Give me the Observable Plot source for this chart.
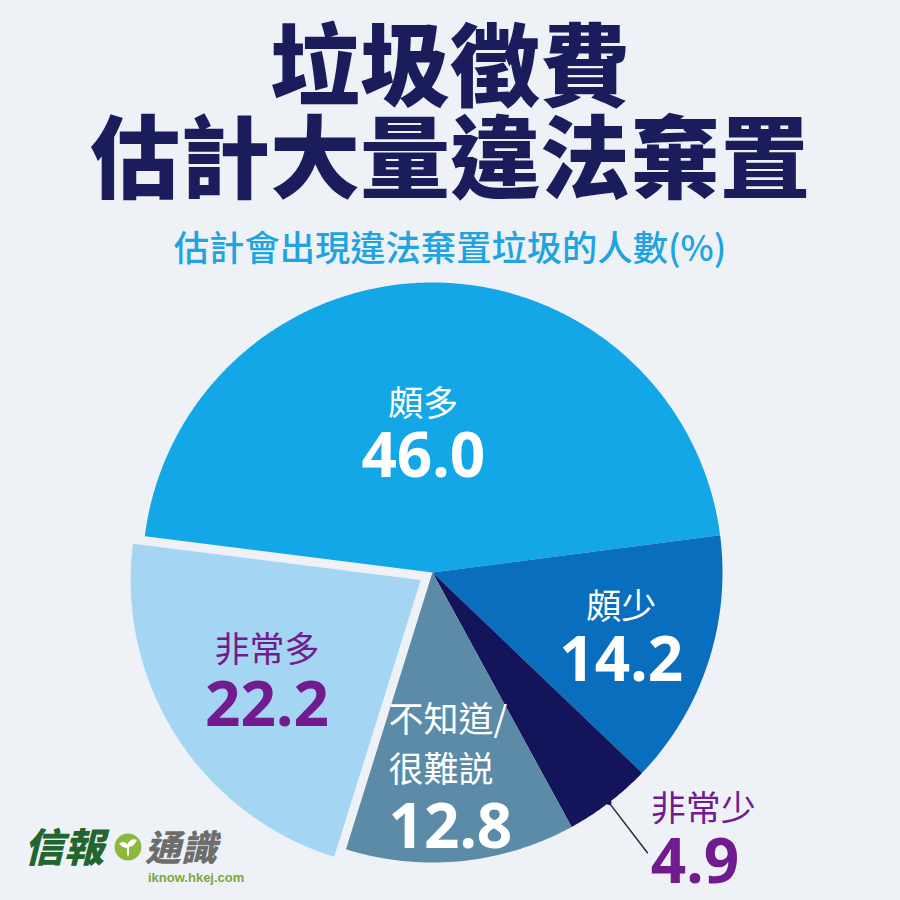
<!DOCTYPE html>
<html><head><meta charset="utf-8">
<script src="https://cdn.jsdelivr.net/npm/d3@7"></script>
<script src="https://cdn.jsdelivr.net/npm/@observablehq/plot@0.6"></script>
<style>
html,body{margin:0;padding:0;background:#eef2f7;}
#page{position:relative;width:900px;height:900px;overflow:hidden;font-family:"Noto Sans CJK TC","Noto Sans",sans-serif;background:#eef2f7;}
#header{position:relative;height:275px;}
.t{position:absolute;left:0;width:900px;text-align:center;color:#1b1c5c;font-weight:900;font-size:90px;line-height:92px;white-space:nowrap;}
#sub{position:absolute;left:0;width:900px;text-align:center;color:#20a4e1;font-size:35.3px;line-height:40px;top:226px;font-weight:500;white-space:nowrap;}
#chart svg{display:block;}
#logo{position:absolute;left:24px;top:822px;width:240px;height:70px;}
</style></head><body>
<div id="page">
  <div id="header">
    <div class="t" style="top:14px">垃圾徵費</div>
    <div class="t" style="top:106px">估計大量違法棄置</div>
    <div id="sub">估計會出現違法棄置垃圾的人數(%)</div>
  </div>
  <div id="chart"></div>
  <div id="logo">
    <span style="position:absolute;left:0;top:-2px;font-family:'Noto Sans CJK TC';font-weight:900;font-style:italic;color:#23652f;font-size:40px;line-height:50px;">信報</span>
    <svg style="position:absolute;left:90px;top:11px" width="28" height="28" viewBox="0 0 26 26"><circle cx="13" cy="13" r="12.5" fill="#8cb83d"/><path d="M13 21 V12 M13 13 C11 9 8 9 6 10 C8 13 11 13 13 13 M13 12 C14 8 17 6 20 7 C19 10 16 12 13 12" stroke="#fff" stroke-width="1.8" fill="#fff"/></svg>
    <span style="position:absolute;left:121px;top:-2px;font-family:'Noto Sans CJK TC';font-weight:900;font-style:italic;color:#6d6d6d;font-size:36px;line-height:50px;">通識</span>
    <span style="position:absolute;left:124px;top:48px;font-family:'Liberation Sans',Arial,sans-serif;font-weight:bold;color:#7aa83a;font-size:13px;line-height:16px;">iknow.hkej.com</span>
  </div>
</div>
<script>
// ---- data ----
const categories = ["頗多", "頗少", "非常少", "不知道/很難説", "非常多"];
const values = [46.0, 14.2, 4.9, 12.8, 22.2];
const nameLines = [["頗多"], ["頗少"], ["非常少"], ["不知道/", "很難説"], ["非常多"]];
const valueLabels = ["46.0", "14.2", "4.9", "12.8", "22.2"];
const colors = ["#14a7e7", "#0a6ebf", "#13145a", "#5c8ba8", "#a4d6f4"];

// ---- layout ----
const W = 900, H = 625, R = 290, cx = 432, cy = 297;
const explode = {"非常多": 14 / R};
const layout = {
  "頗多":        {r: 0.49, dx: -9, anchor: "middle", nameDy: [-26], valDy: 27, inside: true},
  "頗少":        {r: 0.685, dx: 0, anchor: "middle", nameDy: [-27], valDy: 27, inside: true},
  "非常少":      {r: 1.22, dx: 3, anchor: "start", nameDy: [-43], valDy: 10, inside: false},
  "不知道/很難説": {r: 0.70, dx: -64, anchor: "start", nameDy: [-54, -4], valDy: 54, inside: true},
  "非常多":      {r: 0.63, dx: 0, anchor: "middle", nameDy: [-28], valDy: 27, inside: true}
};

const a0 = -0.46 * Math.PI;
const pie = d3.pie().sort(null).value(d => d.value).startAngle(a0).endAngle(a0 + 2 * Math.PI);
const arcs = pie(categories.map((c, i) => ({cat: c, value: values[i], i})));

const pts = [];
const names = [], nums = [], leader = [];
arcs.forEach(a => {
  const cat = a.data.cat, i = a.data.i;
  const mid = (a.startAngle + a.endAngle) / 2;
  const off = explode[cat] || 0;
  const ox = off * Math.sin(mid), oy = off * Math.cos(mid);
  pts.push({cat, x: ox, y: oy});
  const n = Math.ceil((a.endAngle - a.startAngle) / (Math.PI / 360));
  for (let k = 0; k <= n; k++) {
    const t = a.startAngle + (a.endAngle - a.startAngle) * k / n;
    pts.push({cat, x: ox + Math.sin(t), y: oy + Math.cos(t)});
  }
  pts.push({cat, x: ox, y: oy});
  const L = layout[cat];
  const lx = ox + L.r * Math.sin(mid), ly = oy + L.r * Math.cos(mid);
  const fill = (cat === "非常多" || cat === "非常少") ? "#701c8e" : "#ffffff";
  nameLines[i].forEach((t, j) => names.push({x: lx, y: ly, text: t, dy: L.nameDy[j], dx: L.dx, anchor: L.anchor, fill}));
  nums.push({x: lx, y: ly, text: valueLabels[i], dy: L.valDy, dx: L.dx, anchor: L.anchor, fill});
  if (!L.inside) leader.push({x1: Math.sin(mid), y1: Math.cos(mid), x2: L.r * Math.sin(mid), y2: L.r * Math.cos(mid)});
});

function textMarks(data, opts) {
  const groups = d3.groups(data, d => d.fill + "|" + d.anchor + "|" + d.dy + "|" + d.dx);
  return groups.map(([k, g]) => Plot.text(g, {x: "x", y: "y", text: "text", fill: g[0].fill, textAnchor: g[0].anchor, dy: g[0].dy, dx: g[0].dx, ...opts}));
}

const chart = Plot.plot({
  width: W, height: H,
  margin: 0,
  x: {domain: [-cx / R, (W - cx) / R], axis: null},
  y: {domain: [-(H - cy) / R, cy / R], axis: null},
  color: {domain: categories, range: colors},
  style: {background: "transparent", fontFamily: "'Noto Sans CJK TC', 'Noto Sans', sans-serif"},
  marks: [
    Plot.line(pts, {x: "x", y: "y", z: "cat", fill: "cat", stroke: null, curve: "linear"}),
    Plot.link(leader, {x1: "x1", y1: "y1", x2: "x2", y2: "y2", stroke: "#2a2a3a", strokeWidth: 1.5}),
    Plot.dot(leader, {x: "x1", y: "y1", r: 2.5, fill: "#13145a"}),
    ...textMarks(names, {fontSize: 35, fontWeight: 400, fontFamily: "'Noto Sans CJK TC', sans-serif"}),
    ...textMarks(nums, {fontSize: 62, fontWeight: 700, fontFamily: "'Noto Sans', 'Open Sans', sans-serif", letterSpacing: "-2px"})
  ]
});
document.getElementById("chart").appendChild(chart);
</script>
</body></html>
